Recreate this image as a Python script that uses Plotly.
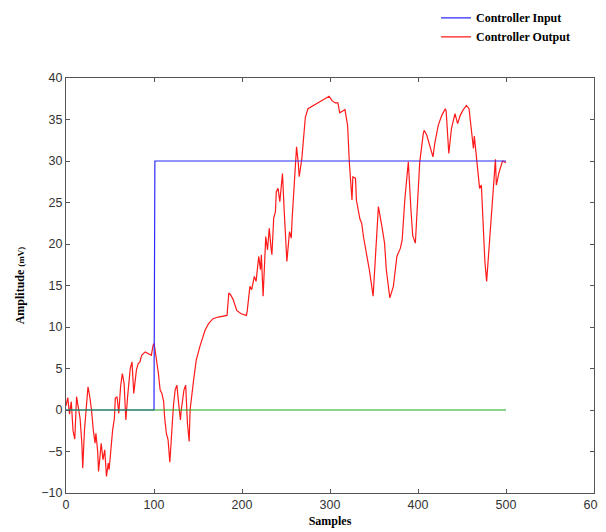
import plotly.graph_objects as go

# ---- data ----
output_samples = [0, 2, 4, 6, 8, 10, 12, 14, 16, 18, 19, 21, 23, 25, 27, 29, 31, 33, 34, 36,
                  37, 39, 40, 42, 44, 46, 48, 49, 51, 53, 55, 56, 58, 60, 62, 64, 66, 68, 70, 72,
                  73, 75, 77, 80, 82, 84, 86, 90, 94, 97, 99, 100, 101, 103, 105, 107, 109, 111, 112, 114,
                  116, 118, 120, 122, 124, 126, 128, 130, 131, 134, 136, 138, 140, 141, 145, 148, 152, 156, 158, 162,
                  167, 173, 180, 183, 185, 187, 190, 194, 199, 205, 206, 209, 211, 214, 216, 217, 219, 221, 222, 224,
                  227, 229, 231, 233, 234, 236, 238, 239, 241, 243, 245, 246, 248, 250, 251, 254, 256, 257, 258, 260,
                  262, 264, 265, 268, 270, 272, 275, 281, 287, 291, 296, 299, 302, 306, 309, 311, 314, 317, 320, 322,
                  325, 326, 329, 330, 334, 336, 338, 342, 345, 349, 351, 355, 359, 362, 364, 368, 372, 376, 380, 382,
                  385, 389, 392, 394, 397, 400, 402, 406, 407, 410, 414, 417, 419, 423, 427, 431, 432, 435, 438, 442,
                  445, 448, 451, 455, 458, 461, 463, 464, 467, 470, 472, 476, 478, 482, 486, 488, 489, 492, 496, 500]
output_values = [0.5, 1.5, -0.5, 1.0, -2.5, -3.5, 1.6, 0.5, -1.0, -4.0, -7.0, -2.4, 0.8, 2.8, 1.6, 0.0, -2.4, -4.0, -2.8, -5.0,
                 -7.4, -5.0, -4.0, -6.0, -4.8, -8.0, -6.4, -7.2, -4.4, -2.4, -1.0, 1.4, 1.6, -0.4, 2.8, 4.4, 3.2, -1.2, 1.6, 3.6,
                 5.0, 5.8, 2.0, 4.8, 5.6, 5.8, 6.6, 7.0, 6.8, 6.6, 7.8, 8.0, 7.4, 6.0, 4.4, 2.4, 2.0, 1.0, -0.8, -2.8,
                 -3.6, -6.3, -2.4, 0.4, 2.4, 3.0, 0.8, -1.2, 0.0, 2.4, 3.0, -1.6, -3.8, 0.0, 3.6, 6.0, 7.6, 8.8, 9.6, 10.4,
                 11.0, 11.2, 11.3, 11.4, 14.1, 13.9, 13.3, 12.0, 11.6, 11.4, 12.0, 14.9, 14.5, 16.1, 15.5, 16.3, 18.5, 16.9, 18.7, 13.7,
                 20.9, 19.3, 21.9, 19.5, 18.7, 23.1, 23.9, 26.3, 26.7, 25.1, 27.9, 28.5, 23.9, 20.3, 17.9, 21.5, 20.7, 23.1, 25.1, 28.3,
                 31.7, 29.7, 28.1, 30.3, 33.1, 35.3, 36.3, 36.7, 37.0, 37.3, 37.6, 37.8, 37.3, 37.0, 37.0, 35.8, 36.0, 36.2, 34.3, 29.8,
                 25.3, 28.1, 27.9, 25.3, 23.0, 22.5, 20.9, 18.5, 16.7, 13.7, 17.0, 24.5, 22.1, 20.1, 16.9, 13.5, 14.9, 18.5, 19.5, 20.5,
                 25.3, 29.9, 24.1, 21.0, 20.1, 25.3, 29.9, 33.3, 33.7, 33.1, 31.7, 30.5, 32.1, 34.3, 35.5, 36.3, 36.0, 30.9, 33.9, 35.7,
                 34.5, 35.5, 36.1, 36.7, 36.3, 33.5, 31.5, 33.0, 30.0, 26.7, 27.1, 17.9, 15.5, 21.9, 27.5, 30.2, 27.1, 28.6, 30.0, 29.8]

input_samples = [0, 100, 101, 500]
input_values = [0, 0, 30, 30]

zero_samples = [0, 500]
zero_values = [0, 0]

x_ticks = [0, 100, 200, 300, 400, 500, 600]
y_ticks = [-10, -5, 0, 5, 10, 15, 20, 25, 30, 35, 40]

fig = go.Figure()
fig.add_trace(go.Scatter(x=output_samples, y=output_values, mode="lines",
                         name="<b>Controller Output</b>", line=dict(color="#ff1a1a", width=1.2),
                         legendrank=2))
fig.add_trace(go.Scatter(x=input_samples, y=input_values, mode="lines",
                         name="<b>Controller Input</b>", line=dict(color="#2a2aff", width=1.2),
                         legendrank=1))
fig.add_trace(go.Scatter(x=zero_samples, y=zero_values, mode="lines",
                         showlegend=False, line=dict(color="#1aa81a", width=1.2)))

axis_common = dict(showgrid=False, zeroline=False, showline=True, linecolor="#555555",
                   linewidth=1, mirror="ticks", ticks="inside", ticklen=4,
                   tickcolor="#555555", automargin=False, ticklabeloverflow="allow",
                   tickfont=dict(family="Liberation Sans, Arial", size=12.5, color="#333333"))

fig.update_xaxes(range=[0, 600], tickvals=x_ticks,
                 title=dict(text="<b>Samples</b>", standoff=5,
                            font=dict(family="Liberation Serif, Times New Roman", size=12, color="#000000")),
                 **axis_common)
fig.update_yaxes(range=[-10, 40], tickvals=y_ticks,
                 title=dict(text="<b>Amplitude <span style='font-size:9px'>(mV)</span></b>", standoff=14,
                            font=dict(family="Liberation Serif, Times New Roman", size=12, color="#000000")),
                 **axis_common)

fig.update_layout(
    width=598, height=524,
    margin=dict(l=58, r=12, t=70, b=39, autoexpand=False),
    paper_bgcolor="white", plot_bgcolor="white",
    legend=dict(x=0.7008, y=1.18, xanchor="left", yanchor="top",
                bgcolor="rgba(0,0,0,0)",
                font=dict(family="Liberation Serif, Times New Roman", size=12, color="#000000"),
                tracegroupgap=0),
    showlegend=True,
)

fig.write_html("out.html")
